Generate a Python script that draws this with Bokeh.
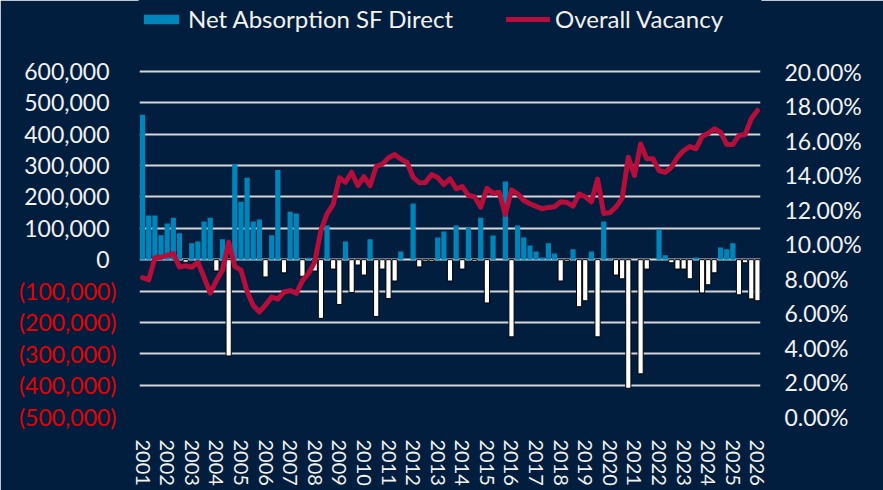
from bokeh.plotting import figure
from bokeh.models import (Range1d, LinearAxis, FixedTicker, NumeralTickFormatter,
                          PrintfTickFormatter, Legend, LegendItem, ColumnDataSource)
from bokeh.embed import file_html
from bokeh.resources import INLINE

# ---------------- data ----------------
years = ["2001", "2002", "2003", "2004", "2005", "2006", "2007", "2008", "2009",
         "2010", "2011", "2012", "2013", "2014", "2015", "2016", "2017", "2018",
         "2019", "2020", "2021", "2022", "2023", "2024", "2025", "2026"]

# quarterly net absorption (SF), 2001Q1 .. 2026Q1
absorption = [
    462000, 141000, 141000, 78000, 115000, 134000, 84000, -8000,
    52000, 58000, 122000, 134000, -36000, 65000, -307000, 305000,
    185000, 261000, 122000, 128000, -55000, 78000, 286000, -42000,
    153000, 147000, -53000, 6000, -36000, -187000, 109000, -30000,
    -143000, 58000, -105000, -17000, -49000, 65000, -181000, -30000,
    -124000, -68000, 26000, 0, 179000, -23000, -5000, -5000,
    71000, 90000, -68000, 109000, -30000, 103000, -5000, 134000,
    -138000, 77000, 0, 249000, -246000, 109000, 71000, 45000,
    26000, 7000, 52000, 20000, -68000, -5000, 33000, -150000,
    -131000, 26000, -246000, 122000, 3000, -49000, -61000, -410000,
    0, -364000, -30000, 0, 96000, 14000, -10000, -30000,
    -30000, -61000, 7000, -106000, -80000, -42000, 39000, 33000,
    52000, -112000, -10000, -125000, -131000,
]

# overall vacancy (%)
vacancy = [
    8.05, 7.92, 9.2, 9.23, 9.34, 9.44, 8.66, 8.73,
    8.65, 8.94, 8.07, 7.15, 7.88, 8.49, 10.1, 8.7,
    8.49, 7.25, 6.43, 6.06, 6.47, 6.92, 6.81, 7.22,
    7.3, 7.14, 7.88, 8.3, 8.95, 10.78, 11.75, 12.3,
    13.84, 13.58, 14.16, 13.39, 13.9, 13.38, 14.49, 14.63,
    15.0, 15.19, 14.92, 14.74, 13.87, 13.55, 13.57, 14.03,
    13.86, 13.45, 13.78, 13.2, 13.33, 12.81, 12.74, 12.13,
    13.23, 12.93, 13.0, 11.71, 13.14, 12.91, 12.52, 12.33,
    12.18, 12.04, 12.12, 12.16, 12.45, 12.41, 12.19, 12.9,
    12.74, 12.45, 13.76, 11.77, 11.82, 12.15, 12.65, 15.03,
    13.97, 15.8, 14.94, 14.94, 14.26, 14.16, 14.45, 15.03,
    15.42, 15.65, 15.52, 16.23, 16.42, 16.68, 16.48, 15.77,
    15.77, 16.29, 16.35, 17.26, 17.74,
]

pos_ticks = [0, 100000, 200000, 300000, 400000, 500000, 600000]
neg_ticks = [-500000, -400000, -300000, -200000, -100000]
neg_tick_labels = ["(500,000)", "(400,000)", "(300,000)", "(200,000)", "(100,000)"]
right_ticks = [0, 2, 4, 6, 8, 10, 12, 14, 16, 18, 20]

# ---------------- style / layout ----------------
NAVY = "#011e3e"
BLUE = "#0085ba"
CRIMSON = "#b50e3a"
TXT = "#f2f2f2"
RED = "#e60000"
FONT = "Lato"

PLOT_H = 345          # height of the gridded area
HEAD = 71             # room above the gridded area (holds the legend)
sf_lo, sf_hi = -500000, 600000
vac_lo, vac_hi = 0, 20
ext = HEAD / PLOT_H   # extend ranges so the legend sits inside the frame

idx = list(range(len(absorption)))
pos = ColumnDataSource(dict(x=[i for i in idx if absorption[i] >= 0],
                            top=[v for v in absorption if v >= 0]))
neg = ColumnDataSource(dict(x=[i for i in idx if absorption[i] < 0],
                            top=[v for v in absorption if v < 0]))

p = figure(frame_width=621, frame_height=PLOT_H + HEAD,
           x_range=Range1d(-0.5, len(absorption) - 0.5),
           y_range=Range1d(sf_lo, sf_hi + (sf_hi - sf_lo) * ext),
           output_backend="svg", toolbar_location=None,
           min_border_left=139, min_border_right=123,
           min_border_top=0, min_border_bottom=74)
p.background_fill_color = NAVY
p.border_fill_color = NAVY
p.outline_line_color = NAVY
p.outline_line_width = 2

p.extra_y_ranges = {"vac": Range1d(vac_lo, vac_hi + (vac_hi - vac_lo) * ext)}

# grid (all ticks, positive and negative)
p.xgrid.visible = False
p.ygrid.ticker = FixedTicker(ticks=neg_ticks + pos_ticks)
p.ygrid.grid_line_color = "#d6d6d6"
p.ygrid.grid_line_width = 2

# bars
pos_r = p.vbar(x="x", top="top", bottom=0, width=0.85, source=pos,
               fill_color=BLUE, line_color=None)
neg_r = p.vbar(x="x", top="top", bottom=0, width=0.85, source=neg,
               fill_color="white", line_color="black", line_width=1)

# vacancy line
line_r = p.line(idx, vacancy, y_range_name="vac", line_width=5,
                line_color=CRIMSON, line_join="round", line_cap="round")


def style_axis(ax, size, color=TXT):
    ax.axis_line_color = None
    ax.major_tick_line_color = None
    ax.minor_tick_line_color = None
    ax.major_tick_in = 0
    ax.major_tick_out = 0
    ax.minor_tick_in = 0
    ax.minor_tick_out = 0
    ax.major_label_text_color = color
    ax.major_label_text_font = FONT
    ax.major_label_text_font_size = size


# left axis: non-negative values in white
yax = p.yaxis[0]
yax.ticker = FixedTicker(ticks=pos_ticks)
yax.formatter = NumeralTickFormatter(format="0,0")
yax.major_label_standoff = 30
style_axis(yax, "23px")

# left axis: negative values in red, in parentheses (pulled in over the first axis)
nax = LinearAxis(ticker=FixedTicker(ticks=neg_ticks))
nax.major_label_overrides = {t: s for t, s in zip(neg_ticks, neg_tick_labels)}
nax.major_label_standoff = -95
style_axis(nax, "23px", RED)
p.add_layout(nax, "left")

# right axis: vacancy
rax = LinearAxis(y_range_name="vac", ticker=FixedTicker(ticks=right_ticks),
                 formatter=PrintfTickFormatter(format="%.2f%%"))
rax.major_label_standoff = 24
style_axis(rax, "23px")
p.add_layout(rax, "right")

# bottom axis: years
xax = p.xaxis[0]
xticks = list(range(0, len(absorption), 4))
xax.ticker = FixedTicker(ticks=xticks)
xax.major_label_overrides = {t: y for t, y in zip(xticks, years)}
xax.major_label_orientation = "vertical"
xax.major_label_standoff = 23
style_axis(xax, "20px")

legend = Legend(items=[LegendItem(label="Net Absorption SF Direct", renderers=[pos_r]),
                       LegendItem(label="Overall Vacancy", renderers=[line_r])],
                orientation="horizontal", location=(0, 383),
                background_fill_alpha=0, border_line_alpha=0,
                label_text_color=TXT, label_text_font=FONT,
                label_text_font_size="24px", glyph_width=44, glyph_height=12,
                label_standoff=5, spacing=53, padding=0, margin=0)
p.add_layout(legend)

open("out.html", "w").write(file_html(p, INLINE))
